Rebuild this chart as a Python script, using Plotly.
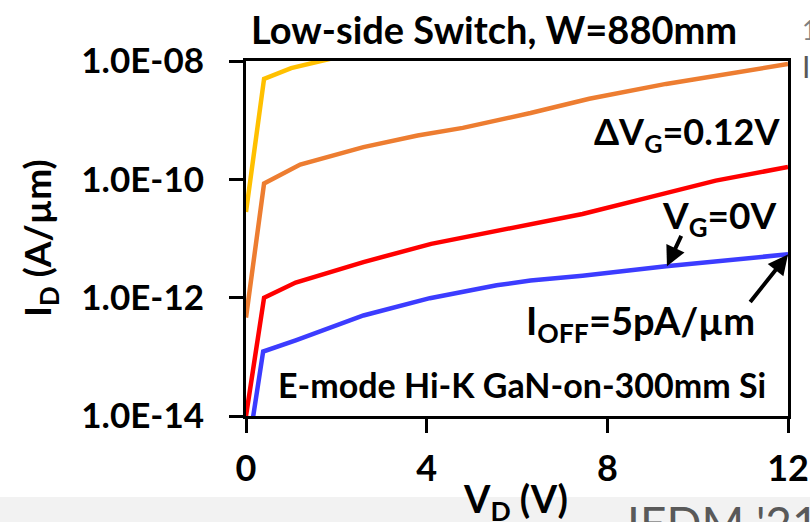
import plotly.graph_objects as go

# ---- data ----
vd_yellow = [0.0, 0.4, 1.0, 1.6, 2.2]
id_yellow = [2.8e-11, 5.0e-9, 7.6e-9, 1.0e-8, 1.25e-8]

vd_orange = [0.0, 0.4, 1.2, 2.6, 3.8, 4.8, 6.3, 7.6, 9.3, 10.8, 12.0]
id_orange = [4.6e-13, 8.5e-11, 1.78e-10, 3.5e-10, 5.5e-10, 7.4e-10, 1.32e-9, 2.3e-9, 4.1e-9, 6.3e-9, 8.9e-9]

vd_red = [0.0, 0.4, 1.1, 2.6, 4.1, 5.55, 6.3, 7.45, 8.9, 10.4, 12.0]
id_red = [1.0e-14, 1.0e-12, 1.8e-12, 4.0e-12, 8.1e-12, 1.35e-11, 1.7e-11, 2.6e-11, 4.9e-11, 9.5e-11, 1.62e-10]

vd_blue = [0.1, 0.38, 1.1, 2.6, 4.07, 5.55, 6.3, 7.45, 9.3, 10.8, 12.0]
id_blue = [5.0e-15, 1.23e-13, 1.9e-13, 5.0e-13, 9.8e-13, 1.62e-12, 1.95e-12, 2.35e-12, 3.4e-12, 4.3e-12, 5.4e-12]

y_tickvals = [1e-14, 1e-12, 1e-10, 1e-8]
y_ticktext = ["1.0E-14", "1.0E-12", "1.0E-10", "1.0E-08"]
x_tickvals = [0, 4, 8, 12]

FONT = "Lato"
W, H = 810, 522
L, R, T, B = 246, 22, 61, 106

def px(xpix):
    return (xpix - L) / (W - L - R)

def py(ypix):
    return (H - B - ypix) / (H - T - B)

fig = go.Figure()
series = [
    (vd_yellow, id_yellow, "#FFC000"),
    (vd_orange, id_orange, "#ED7D31"),
    (vd_red, id_red, "#FF0000"),
    (vd_blue, id_blue, "#3C3CFF"),
]
for xs, ys, c in series:
    fig.add_trace(go.Scatter(x=xs, y=ys, mode="lines",
                             line=dict(color=c, width=4.5), showlegend=False,
                             cliponaxis=True))

fig.update_layout(
    width=W, height=H,
    margin=dict(l=L, r=R, t=T, b=B, autoexpand=False),
    paper_bgcolor="white", plot_bgcolor="white",
    font=dict(family=FONT, color="black"),
)
fig.update_xaxes(range=[0, 12], tickvals=x_tickvals, ticks="outside", ticklen=14,
                 tickwidth=3, tickcolor="black", showline=True, linewidth=3,
                 linecolor="black", mirror=True, showgrid=False, zeroline=False,
                 automargin=False, ticklabelstandoff=5,
                 tickfont=dict(family=FONT, size=36, color="black", weight="bold"))
fig.update_yaxes(type="log", range=[-14, -8], tickvals=y_tickvals, ticktext=y_ticktext,
                 ticks="outside", ticklen=14, tickwidth=3, tickcolor="black",
                 showline=True, linewidth=3, linecolor="black", mirror=True,
                 showgrid=False, zeroline=False, ticklabelstandoff=18, automargin=False,
                 tickfont=dict(family=FONT, size=35, color="black", weight="bold"))

ann = []
def txt(x, y, text, size, xanchor="center", yanchor="middle", color="black",
        bold=True, angle=0):
    ann.append(dict(xref="paper", yref="paper", x=x, y=y, text=text, showarrow=False,
                    xanchor=xanchor, yanchor=yanchor, textangle=angle,
                    font=dict(family=FONT, size=size, color=color,
                              weight="bold" if bold else "normal")))

txt(px(494), py(29), "Low-side Switch, W=880mm", 38)
txt(px(782), py(133), "ΔV<sub>G</sub>=0.12V", 36, xanchor="right")
txt(px(778), py(217), "V<sub>G</sub>=0V", 37, xanchor="right")
txt(px(757), py(323), "I<sub>OFF</sub>=5pA/µm", 38, xanchor="right")
txt(px(522), py(384), "E-mode Hi-K GaN-on-300mm Si", 34)
txt(px(39), py(238), "I<sub>D</sub> (A/µm)", 37, angle=-90)
txt(px(515), py(501), "V<sub>D</sub> (V)", 38)
txt(px(625), py(522), "IEDM '21", 46, xanchor="left", color="#595959", bold=False)
txt(px(800), py(30), "1", 26, xanchor="left", color="#7F7F7F", bold=False)
txt(px(800), py(66), "I", 30, xanchor="left", color="#595959", bold=False)

# arrows pointing at the blue curve
ann.append(dict(xref="x", yref="y", x=9.32, y=-11.47, ax=15, ay=-32, text="",
                showarrow=True, arrowhead=2, arrowsize=1, arrowwidth=4,
                arrowcolor="black", standoff=0))
ann.append(dict(xref="x", yref="y", x=12.0, y=-11.27, ax=-39, ay=49, text="",
                showarrow=True, arrowhead=2, arrowsize=1, arrowwidth=4,
                arrowcolor="black", standoff=0))
fig.update_layout(annotations=ann)

fig.add_shape(type="rect", xref="paper", yref="paper",
              x0=px(0), x1=px(W), y0=py(H + 5), y1=py(497),
              fillcolor="#F2F2F2", line=dict(width=0), layer="below")

fig.write_html("out.html")
